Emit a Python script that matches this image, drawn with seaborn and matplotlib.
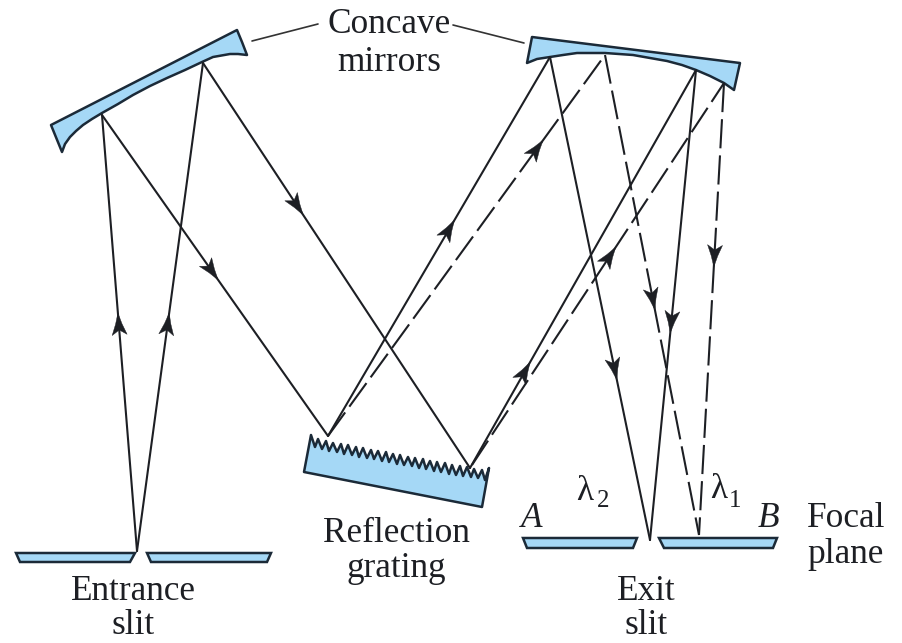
import numpy as np
import pandas as pd
import seaborn as sns
import matplotlib.pyplot as plt

sns.set_theme(style='white')
plt.rcParams['font.family'] = ['Liberation Serif', 'DejaVu Serif']

INK = '#1d1f24'
EDGE = '#1b2a38'
BLUE = '#a5d8f6'

# mirrors and slits, in picture pixels
mirror_left_x = [51, 237, 242, 247, 238, 230, 213, 202, 185, 167, 150, 133, 118, 102, 92, 83, 76, 70, 65, 62, 51]
mirror_left_y = [125, 30, 42, 55, 54, 54, 57, 62, 70, 78, 86, 95, 104, 113, 119, 125, 131, 137, 144, 152, 125]
mirror_right_x = [532, 740, 734, 724, 710, 696, 682, 667, 650, 633, 619, 605, 591, 577, 563, 550, 537, 527, 532]
mirror_right_y = [37, 63, 90, 83, 76, 70, 65, 61, 58, 55, 54, 53, 53, 53, 55, 57, 59, 63, 37]

grating_x = [304, 311, 315, 318, 322, 326, 329, 333, 337, 341, 344, 348, 352, 356, 359, 363, 367,
             371, 374, 378, 382, 386, 389, 393, 397, 400, 404, 408, 412, 415, 419, 423, 426, 430,
             434, 437, 441, 445, 449, 452, 456, 460, 463, 467, 471, 474, 478, 482, 485, 489, 482]
grating_y = [472, 435, 447, 439, 449, 441, 451, 443, 452, 444, 454, 445, 455, 447, 457, 448, 458,
             450, 459, 451, 461, 452, 462, 454, 464, 455, 465, 457, 466, 458, 468, 459, 469, 461,
             471, 462, 472, 463, 474, 465, 475, 466, 476, 467, 477, 469, 478, 470, 480, 468, 507]

slit_x = [[16, 135, 130, 20], [147, 271, 267, 151], [523, 637, 633, 527], [659, 777, 773, 664]]
slit_y = [[553, 553, 562, 562], [553, 553, 562, 562], [538, 538, 548, 548], [538, 538, 548, 548]]

# light rays, start -> end, and the height of each arrow tip
ray_x0 = [137, 137, 102, 203, 328, 470, 328, 472, 550, 696, 605, 724]
ray_y0 = [551, 551, 115, 63, 436, 468, 436, 465, 57, 70, 55, 83]
ray_x1 = [102, 203, 328, 470, 550, 696, 605, 724, 650, 650, 699, 699]
ray_y1 = [115, 63, 436, 468, 57, 70, 55, 83, 540, 540, 535, 535]
ray_kind = ['solid', 'solid', 'solid', 'solid', 'solid', 'solid', 'dashed', 'dashed', 'solid', 'solid', 'dashed', 'dashed']
arrow_y = [313, 313, 280, 215, 220, 362, 140, 247, 380, 333, 310, 267]

leader_x = [[252, 318], [453, 524]]
leader_y = [[41, 24], [25, 43]]

labels = ['Concave', 'mirrors', 'Reflection', 'grating', 'Entrance', 'slit', 'Exit', 'slit', 'Focal', 'plane']
label_x = [389, 389, 396, 396, 133, 133, 646, 646, 846, 846]
label_y = [33, 71, 542, 577, 600, 634, 600, 634, 527, 563]

rays = pd.DataFrame({
    'ray': np.repeat(np.arange(len(ray_x0)), 2),
    'x': np.column_stack([ray_x0, ray_x1]).ravel(),
    'y': np.column_stack([ray_y0, ray_y1]).ravel(),
    'kind': np.repeat(ray_kind, 2),
})

fig, ax = plt.subplots(figsize=(9.02, 6.43), dpi=100)
fig.subplots_adjust(left=0, right=1, bottom=0, top=1)

sns.lineplot(data=rays, x='x', y='y', units='ray', estimator=None, sort=False, style='kind',
             dashes={'solid': (None, None), 'dashed': (14, 3.4)}, style_order=['solid', 'dashed'],
             color=INK, linewidth=1.5, legend=False, ax=ax)

for x, y in zip(leader_x, leader_y):
    ax.plot(x, y, color='#333333', lw=1.2)

for x, y in [(mirror_left_x, mirror_left_y), (mirror_right_x, mirror_right_y), (grating_x, grating_y)]:
    ax.fill(x, y, facecolor=BLUE, edgecolor=EDGE, lw=1.8, joinstyle='round')
for x, y in zip(slit_x, slit_y):
    ax.fill(x, y, facecolor=BLUE, edgecolor=EDGE, lw=1.8)

# barbed arrow heads sitting on the rays
for x0, y0, x1, y1, tip_y in zip(ray_x0, ray_y0, ray_x1, ray_y1, arrow_y):
    d = np.array([x1 - x0, y1 - y0], dtype=float)
    d /= np.hypot(*d)
    n = np.array([-d[1], d[0]])
    tip = np.array([x0 + (x1 - x0) * (tip_y - y0) / (y1 - y0), tip_y])
    head = [tip, tip - 11 * d + 3.2 * n, tip - 22 * d + 7.5 * n, tip - 17 * d,
            tip - 22 * d - 7.5 * n, tip - 11 * d - 3.2 * n]
    ax.fill(*zip(*head), color=INK, lw=0.3)

for s, x, y in zip(labels, label_x, label_y):
    ax.text(x, y, s, fontsize=25.4, color=INK, ha='center', va='baseline')

ax.text(585, 500, 'λ', fontsize=25.4, color=INK, ha='center', va='baseline')
ax.text(603, 507, '2', fontsize=18, color=INK, ha='center', va='baseline')
ax.text(719, 498, 'λ', fontsize=25.4, color=INK, ha='center', va='baseline')
ax.text(735, 507, '1', fontsize=18, color=INK, ha='center', va='baseline')
ax.text(532, 527, 'A', fontsize=25.4, style='italic', color=INK, ha='center', va='baseline')
ax.text(768, 527, 'B', fontsize=25.4, style='italic', color=INK, ha='center', va='baseline')

ax.set_xlim(0, 902)
ax.set_ylim(643, 0)
ax.axis('off')

plt.savefig('out.png', dpi=100)
